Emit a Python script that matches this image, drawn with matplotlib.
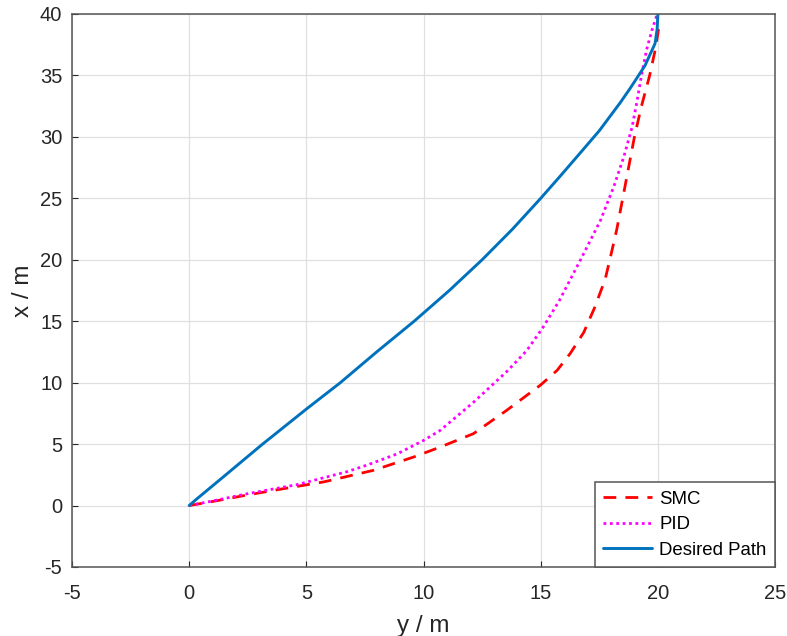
import matplotlib
matplotlib.use("Agg")
import matplotlib.pyplot as plt

plt.rcParams['font.family'] = ['Liberation Sans', 'DejaVu Sans']
plt.rcParams['axes.unicode_minus'] = False

# Desired path (lateral y vs longitudinal x, metres)
path_y = [0, 0.3, 1.5, 3.1, 5.0, 6.45, 8.0, 9.6, 11.1, 12.5, 13.8, 15.0,
          15.83, 16.69, 17.5, 18.4, 18.8, 19.45, 19.88, 19.97, 20.0]
path_x = [0, 0.5, 2.4, 4.95, 7.85, 10, 12.5, 15, 17.5, 20, 22.5, 25,
          26.8, 28.7, 30.5, 32.8, 33.9, 35.8, 37.6, 38.8, 40]

# PID tracked trajectory
pid_y = [0, 1.2, 2.45, 4.6, 6.73, 7.6, 8.87, 10.0, 10.7, 12.13, 13.55, 14.4,
         15.1, 15.8, 16.69, 17.55, 18.12, 18.55, 18.9, 19.1, 19.3, 19.52,
         19.75, 19.97]
pid_x = [0, 0.45, 0.95, 1.7, 2.75, 3.3, 4.2, 5.3, 6.1, 8.4, 10.9, 12.6,
         14.5, 16.7, 19.96, 23.2, 25.96, 28.4, 30.8, 32.8, 35, 37.1,
         38.7, 40]

# SMC tracked trajectory
smc_y = [0, 1.2, 2.45, 3.8, 5.73, 7.87, 9.58, 10.7, 12.13, 13.55, 14.99, 15.7,
         16.27, 16.84, 17.3, 17.75, 17.95, 18.25, 18.5, 18.75, 19.0, 19.3,
         19.65, 19.9, 20.08]
smc_x = [0, 0.4, 0.85, 1.3, 1.92, 2.87, 3.95, 4.75, 5.85, 7.75, 9.8, 11.0,
         12.4, 14.1, 16.1, 18.4, 20.0, 22.5, 25.0, 27.5, 30.0, 32.5,
         35.0, 37.2, 39.4]

x_ticks = [-5, 0, 5, 10, 15, 20, 25]
y_ticks = [-5, 0, 5, 10, 15, 20, 25, 30, 35, 40]

fig = plt.figure(figsize=(7.87, 6.36), dpi=100)
ax = fig.add_axes([0.0915, 0.1085, 0.8933, 0.8695])

lw = 2.0
l1, = ax.plot(smc_y, smc_x, color='#FF0000', lw=lw, label='SMC')
l1.set_dashes((4.6, 3.3))
l2, = ax.plot(pid_y, pid_x, color='#FF00FF', lw=lw, label='PID')
l2.set_dashes((1.0, 1.3))
ax.plot(path_y, path_x, color='#0072BD', lw=lw + 0.1, label='Desired Path',
        solid_capstyle='round')

ax.set_xlim(-5, 25)
ax.set_ylim(-5, 40)
ax.set_xticks(x_ticks)
ax.set_yticks(y_ticks)
ax.tick_params(direction='in', length=4, labelsize=14.5, colors='#262626',
               top=False, right=False)
ax.tick_params(axis='x', pad=12)
ax.tick_params(axis='y', pad=7)
ax.grid(True, color='#e0e0e0', lw=0.9)
ax.set_axisbelow(True)
for s in ax.spines.values():
    s.set_color('#555555')
    s.set_linewidth(1.1)

ax.set_xlabel('y / m', fontsize=17.5, color='#262626', labelpad=9)
ax.set_ylabel('x / m', fontsize=17.5, color='#262626', labelpad=4)

leg = ax.legend(loc='lower right', borderaxespad=0, fancybox=False,
                fontsize=13.4, handlelength=2.6, framealpha=1,
                edgecolor='#555555', borderpad=0.45, labelspacing=0.45,
                handletextpad=0.4)
leg.get_frame().set_linewidth(1.1)

fig.savefig('out.png', dpi=100, facecolor='white')
